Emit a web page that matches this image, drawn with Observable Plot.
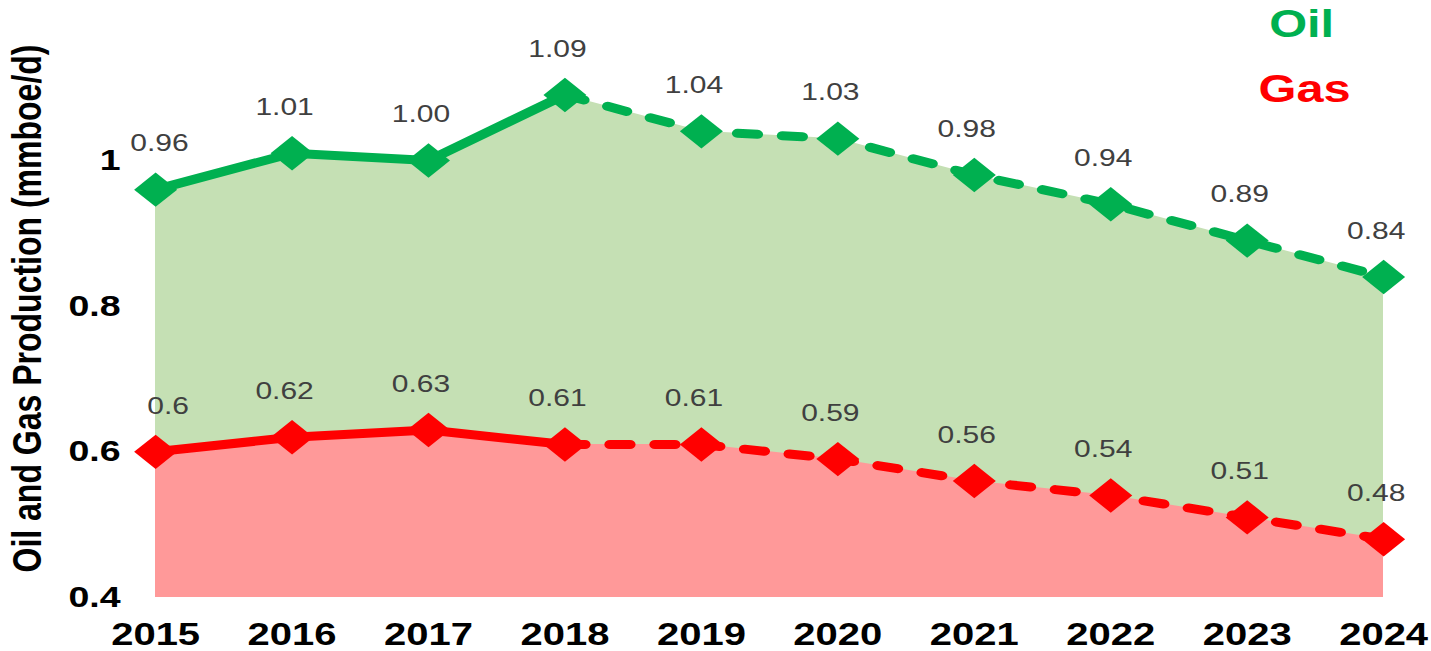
<!DOCTYPE html>
<html>
<head>
<meta charset="utf-8">
<script src="https://cdn.jsdelivr.net/npm/d3@7"></script>
<script src="https://cdn.jsdelivr.net/npm/@observablehq/plot@0.6"></script>
<style>
  html, body { margin: 0; padding: 0; background: #fff; }
  #chart svg { display: block; }
</style>
</head>
<body>
<div id="chart"></div>
<script>
const years = [2015, 2016, 2017, 2018, 2019, 2020, 2021, 2022, 2023, 2024];
const oil = [0.96, 1.01, 1.00, 1.09, 1.04, 1.03, 0.98, 0.94, 0.89, 0.84];
const gas = [0.60, 0.62, 0.63, 0.61, 0.61, 0.59, 0.56, 0.54, 0.51, 0.48];
const oilLabels = ["0.96", "1.01", "1.00", "1.09", "1.04", "1.03", "0.98", "0.94", "0.89", "0.84"];
const gasLabels = ["0.6", "0.62", "0.63", "0.61", "0.61", "0.59", "0.56", "0.54", "0.51", "0.48"];
const yTicks = [0.4, 0.6, 0.8, 1];
const yTickLabels = ["0.4", "0.6", "0.8", "1"];
const forecastStart = 2018;
const yTitle = "Oil and Gas Production (mmboe/d)";
const seriesNames = ["Oil", "Gas"];

const GREEN = "#00b050", GREEN_FILL = "#c5e0b4";
const RED = "#ff0000", RED_FILL = "#ff9999";
const S = 1.25; // horizontal stretch of the reference
const W = 1431 / S, H = 651;
const MT = 160;

const oilRows = years.map((year, i) => ({year, value: oil[i], label: oilLabels[i]}));
const gasRows = years.map((year, i) => ({year, value: gas[i], label: gasLabels[i]}));

const lineOpts = (color, dashed) => ({
  x: "year", y: "value", stroke: color, strokeWidth: 9,
  strokeLinejoin: "round", strokeLinecap: "round",
  strokeDasharray: dashed ? "16,20" : null
});
const labelOpts = (dx) => ({
  x: "year", y: "value", text: "label", dx, dy: -46,
  fontSize: 24, fill: "#404040"
});

const chart = Plot.plot({
  width: W, height: H,
  marginLeft: 124, marginRight: W - 1383 / S, marginTop: MT, marginBottom: 54,
  x: {domain: [2015, 2024]},
  y: {domain: [0.4, 1]},
  style: {fontFamily: "'Liberation Sans', Arial, sans-serif", overflow: "visible", background: "#fff"},
  marks: [
    Plot.areaY(oilRows, {x: "year", y1: 0.4, y2: "value", fill: GREEN_FILL}),
    Plot.areaY(gasRows, {x: "year", y1: 0.4, y2: "value", fill: RED_FILL}),
    Plot.line(oilRows.filter(d => d.year <= forecastStart), lineOpts(GREEN, false)),
    Plot.line(oilRows.filter(d => d.year >= forecastStart), lineOpts(GREEN, true)),
    Plot.line(gasRows.filter(d => d.year <= forecastStart), lineOpts(RED, false)),
    Plot.line(gasRows.filter(d => d.year >= forecastStart), lineOpts(RED, true)),
    Plot.dot(oilRows, {x: "year", y: "value", symbol: "diamond2", r: 15.5, fill: GREEN}),
    Plot.dot(gasRows, {x: "year", y: "value", symbol: "diamond2", r: 15.5, fill: RED}),
    Plot.text(oilRows.filter(d => d.year !== years[0]), labelOpts(-6)),
    Plot.text(oilRows.filter(d => d.year === years[0]), labelOpts(3)),
    Plot.text(gasRows.filter(d => d.year !== years[0]), labelOpts(-6)),
    Plot.text(gasRows.filter(d => d.year === years[0]), labelOpts(10)),
    Plot.axisX({ticks: years, tickFormat: d => String(d), tickSize: 0, tickPadding: 25,
      fontSize: 32, fontWeight: "bold", label: null}),
    Plot.axisY({ticks: yTicks, tickFormat: (d, i) => yTickLabels[i], tickSize: 0, tickPadding: 28,
      fontSize: 30, fontWeight: "bold", label: null}),
    Plot.text([yTitle], {frameAnchor: "left", textAnchor: "middle", text: d => d, rotate: -90,
      dx: 22.4 - 124, dy: 308 - (MT + 597) / 2,
      fontSize: 32, fontWeight: "bold", fill: "#000"}),
    Plot.text([seriesNames[0]], {frameAnchor: "top-left", textAnchor: "middle", lineAnchor: "middle",
      text: d => d, dx: 1301 / S - 124, dy: 24 - MT, fontSize: 39, fontWeight: "bold", fill: GREEN}),
    Plot.text([seriesNames[1]], {frameAnchor: "top-left", textAnchor: "middle", lineAnchor: "middle",
      text: d => d, dx: 1304 / S - 124, dy: 89 - MT, fontSize: 39, fontWeight: "bold", fill: RED})
  ]
});

chart.setAttribute("width", 1431);
chart.setAttribute("height", 651);
chart.setAttribute("preserveAspectRatio", "none");
chart.style.maxWidth = "none";
chart.style.width = "1431px";
chart.style.height = "651px";
document.getElementById("chart").appendChild(chart);
</script>
</body>
</html>
